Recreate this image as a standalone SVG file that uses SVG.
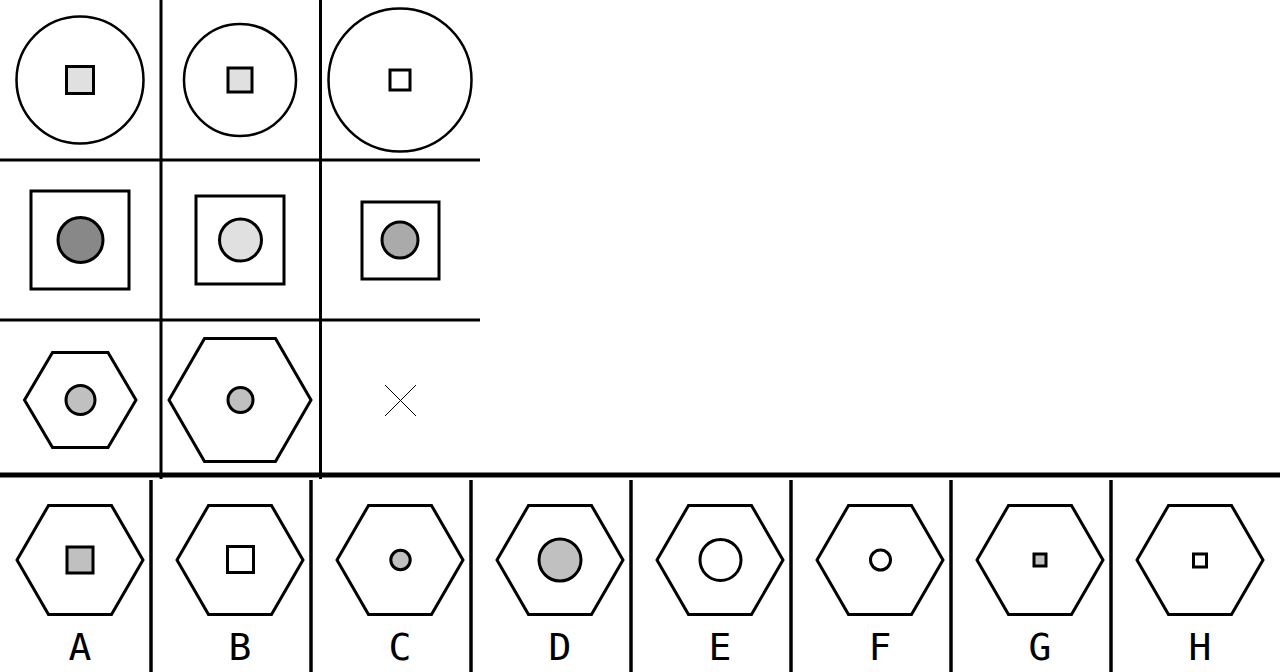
<svg xmlns="http://www.w3.org/2000/svg" width="1280" height="672" viewBox="0 0 1280 672">
<style>
.s{stroke:#000;stroke-width:3;fill:#fff}
.t{stroke:#000;stroke-width:2.5;fill:#fff}
.g{stroke:#000;stroke-linecap:butt}
.l{font-family:"DejaVu Sans Mono","Liberation Mono",monospace;font-size:38px;text-anchor:middle;fill:#000}
</style>
<rect width="1280" height="672" fill="#fff"/>
<g id="grid">
<line class="g" x1="161" y1="0" x2="161" y2="479" stroke-width="3"/>
<line class="g" x1="320.5" y1="0" x2="320.5" y2="479" stroke-width="3"/>
<line class="g" x1="0" y1="160" x2="480" y2="160" stroke-width="3"/>
<line class="g" x1="0" y1="320" x2="480" y2="320" stroke-width="3"/>
<line class="g" x1="0" y1="475" x2="1280" y2="475" stroke-width="5"/>
<line class="g" x1="151" y1="480" x2="151" y2="672" stroke-width="3.5"/>
<line class="g" x1="311" y1="480" x2="311" y2="672" stroke-width="3.5"/>
<line class="g" x1="471" y1="480" x2="471" y2="672" stroke-width="3.5"/>
<line class="g" x1="631" y1="480" x2="631" y2="672" stroke-width="3.5"/>
<line class="g" x1="791" y1="480" x2="791" y2="672" stroke-width="3.5"/>
<line class="g" x1="951" y1="480" x2="951" y2="672" stroke-width="3.5"/>
<line class="g" x1="1111" y1="480" x2="1111" y2="672" stroke-width="3.5"/>
</g>
<g id="r1c1">
<circle class="t" cx="80" cy="80" r="63.5"/>
<rect class="s" x="66.5" y="66.5" width="27" height="27" fill="#e0e0e0" style="fill:#e0e0e0"/>
</g>
<g id="r1c2">
<circle class="t" cx="240" cy="80" r="56"/>
<rect class="s" x="228" y="68" width="24" height="24" style="fill:#e0e0e0"/>
</g>
<g id="r1c3">
<circle class="t" cx="400" cy="80" r="71.5"/>
<rect class="s" x="390" y="70" width="20" height="20"/>
</g>
<g id="r2c1">
<rect class="s" x="31" y="191" width="98" height="98"/>
<circle class="s" cx="80.5" cy="240" r="22.5" style="fill:#888"/>
</g>
<g id="r2c2">
<rect class="s" x="196" y="196" width="88" height="88"/>
<circle class="s" cx="240.5" cy="240" r="21" style="fill:#e0e0e0"/>
</g>
<g id="r2c3">
<rect class="s" x="362" y="202" width="77" height="77"/>
<circle class="s" cx="400" cy="240" r="18" style="fill:#aaa"/>
</g>
<g id="r3c1">
<polygon class="s" points="24.5,400 52.5,352.5 108,352.5 136,400 108,447.5 52.5,447.5"/>
<circle class="s" cx="80.5" cy="400" r="14.5" style="fill:#c0c0c0"/>
</g>
<g id="r3c2">
<polygon class="s" points="169,400 204.5,338.5 275.5,338.5 311,400 275.5,461.5 204.5,461.5"/>
<circle class="s" cx="240.5" cy="400" r="12.5" style="fill:#c0c0c0"/>
</g>
<g id="r3c3">
<line x1="385" y1="385" x2="416" y2="416" stroke="#000" stroke-width="1"/>
<line x1="416" y1="385" x2="385" y2="416" stroke="#000" stroke-width="1"/>
</g>
<g id="optA">
<polygon class="s" points="17,560 48.5,505.5 111.5,505.5 143,560 111.5,614.5 48.5,614.5"/>
<rect class="s" x="67" y="547" width="26" height="26" style="fill:#c0c0c0"/>
<text class="l" x="80" y="660">A</text>
</g>
<g id="optB">
<polygon class="s" points="177,560 208.5,505.5 271.5,505.5 303,560 271.5,614.5 208.5,614.5"/>
<rect class="s" x="227.5" y="546.5" width="26" height="26"/>
<text class="l" x="240" y="660">B</text>
</g>
<g id="optC">
<polygon class="s" points="337,560 368.5,505.5 431.5,505.5 463,560 431.5,614.5 368.5,614.5"/>
<circle class="s" cx="400.5" cy="560" r="9.7" style="fill:#c0c0c0"/>
<text class="l" x="400" y="660">C</text>
</g>
<g id="optD">
<polygon class="s" points="497,560 528.5,505.5 591.5,505.5 623,560 591.5,614.5 528.5,614.5"/>
<circle class="s" cx="560" cy="560" r="21" style="fill:#c0c0c0"/>
<text class="l" x="560" y="660">D</text>
</g>
<g id="optE">
<polygon class="s" points="657,560 688.5,505.5 751.5,505.5 783,560 751.5,614.5 688.5,614.5"/>
<circle class="s" cx="720.5" cy="560" r="20.5"/>
<text class="l" x="720" y="660">E</text>
</g>
<g id="optF">
<polygon class="s" points="817,560 848.5,505.5 911.5,505.5 943,560 911.5,614.5 848.5,614.5"/>
<circle class="s" cx="880.5" cy="560" r="10"/>
<text class="l" x="880" y="660">F</text>
</g>
<g id="optG">
<polygon class="s" points="977,560 1008.5,505.5 1071.5,505.5 1103,560 1071.5,614.5 1008.5,614.5"/>
<rect class="s" x="1034" y="554" width="12" height="12" style="fill:#c0c0c0"/>
<text class="l" x="1040" y="660">G</text>
</g>
<g id="optH">
<polygon class="s" points="1137,560 1168.5,505.5 1231.5,505.5 1263,560 1231.5,614.5 1168.5,614.5"/>
<rect class="s" x="1193.5" y="554" width="13" height="13"/>
<text class="l" x="1200" y="660">H</text>
</g>
</svg>
